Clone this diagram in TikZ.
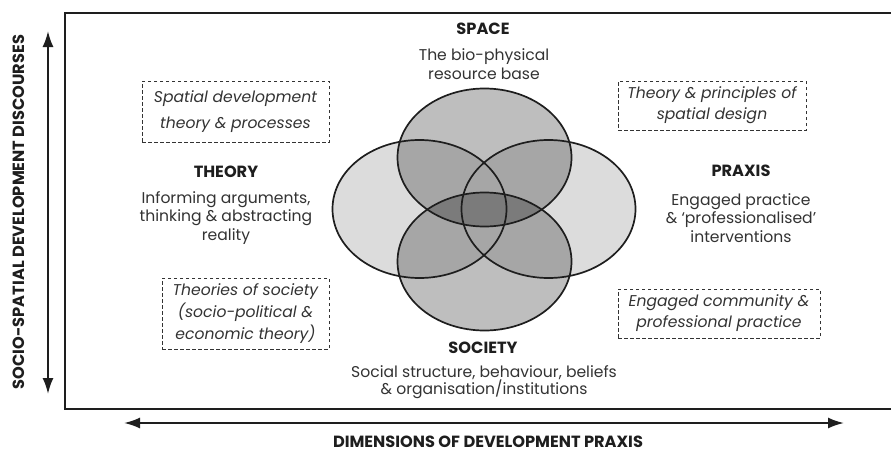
\documentclass[tikz,border=0pt]{standalone}
\usepackage{fontspec}
\setmainfont{Poppins}
\usetikzlibrary{arrows.meta}
\definecolor{txt}{HTML}{333333}
\definecolor{dk}{HTML}{1E1E1E}
\definecolor{lite}{HTML}{DCDCDC}
\definecolor{mid}{HTML}{BEBEBE}
\definecolor{ovl}{HTML}{A6A6A6}
\definecolor{core}{HTML}{7B7B7B}
\tikzset{
  body/.style={text=txt, align=center, font=\fontsize{15.6}{18.5}\selectfont, inner sep=0pt},
  head/.style={text=dk, font=\bfseries\fontsize{16.2}{18}\selectfont, inner sep=0pt},
  dbox/.style={draw=txt, dashed, dash pattern=on 3.5pt off 2.5pt, line width=0.8pt, text=txt, align=center, inner sep=0pt, font=\itshape\fontsize{15.6}{21}\selectfont},
  outl/.style={draw=dk, line width=1.7pt},
  bigarrow/.style={draw=dk, line width=2pt, {Latex[length=16pt,width=11pt]}-{Latex[length=16pt,width=11pt]}},
  ell/.style={x radius=87pt, y radius=69pt}
}
\begin{document}
\begin{tikzpicture}[x=1pt,y=-1pt]
\useasboundingbox (0,0) rectangle (891,455);
\fill[white] (0,0) rectangle (891,455);
% frame
\draw[draw=dk, line width=2.5pt] (65,13) rectangle (905,409);
% ellipse centres
\coordinate (cT) at (484.5,157.5);
\coordinate (cL) at (419.5,209);
\coordinate (cR) at (548.5,209);
\coordinate (cB) at (484.5,261.5);
% fills
\fill[lite] (cL) ellipse [ell];
\fill[lite] (cR) ellipse [ell];
\fill[mid] (cT) ellipse [ell];
\fill[mid] (cB) ellipse [ell];
\begin{scope}\clip (cL) ellipse [ell]; \fill[ovl] (cR) ellipse [ell]; \end{scope}
\begin{scope}\clip (cT) ellipse [ell]; \fill[ovl] (cL) ellipse [ell]; \fill[ovl] (cR) ellipse [ell]; \end{scope}
\begin{scope}\clip (cB) ellipse [ell]; \fill[ovl] (cL) ellipse [ell]; \fill[ovl] (cR) ellipse [ell]; \end{scope}
\begin{scope}\clip (cT) ellipse [ell]; \fill[core] (cB) ellipse [ell]; \end{scope}
% outlines
\draw[outl] (cT) ellipse [ell];
\draw[outl] (cL) ellipse [ell];
\draw[outl] (cR) ellipse [ell];
\draw[outl] (cB) ellipse [ell];
% headings and texts
\node[head] (space) at (483,28.5) {SPACE};
\node[body] (spacetxt) at (484,64) {The bio-physical\\resource base};
\node[head] (theory) at (226,172) {THEORY};
\node[body] (theorytxt) at (226,218) {Informing arguments,\\thinking \& abstracting\\reality};
\node[head] (praxis) at (741,171) {PRAXIS};
\node[body] (praxistxt) at (741,218) {Engaged practice\\\& ‘professionalised’\\interventions};
\node[head] (society) at (483,347.5) {SOCIETY};
\node[body, font=\fontsize{15.6}{17.5}\selectfont] (societytxt) at (484,382) {Social structure, behaviour, beliefs\\\& organisation/institutions};
% dashed boxes
\node[dbox, minimum width=187pt, minimum height=61pt, font=\itshape\fontsize{15.6}{26}\selectfont] (b1) at (235.5,111.5) {Spatial development\\theory \& processes};
\node[dbox, minimum width=188pt, minimum height=49pt] (b2) at (712,105.5) {Theory \& principles of\\spatial design};
\node[dbox, minimum width=167pt, minimum height=71pt, font=\itshape\fontsize{15.6}{22}\selectfont] (b3) at (245.5,313.5) {Theories of society\\(socio-political \&\\economic theory)};
\node[dbox, minimum width=202pt, minimum height=49pt] (b4) at (719,313.5) {Engaged community \&\\professional practice};
% axes
\coordinate (vtop) at (48,31);
\coordinate (vbot) at (48,394);
\coordinate (hl) at (124,423);
\coordinate (hr) at (844,423);
\draw[bigarrow] (vtop) -- (vbot);
\draw[bigarrow] (hl) -- (hr);
\node[head] (hlab) at (488,441.5) {DIMENSIONS OF DEVELOPMENT PRAXIS};
\node[head, rotate=90] (vlab) at (19,212) {SOCIO-SPATIAL DEVELOPMENT DISCOURSES};
\end{tikzpicture}
\end{document}
